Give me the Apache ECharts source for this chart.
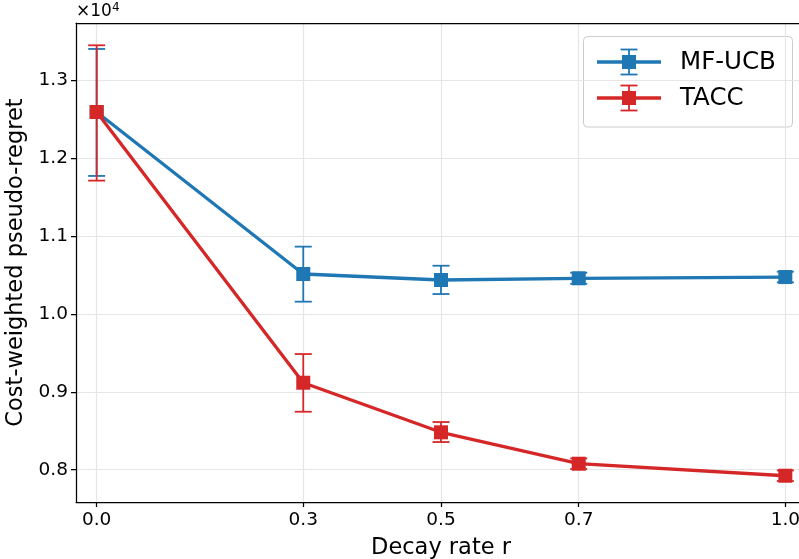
<!DOCTYPE html>
<html>
<head>
<meta charset="utf-8">
<script src="https://cdn.jsdelivr.net/npm/echarts@6/dist/echarts.min.js"></script>
<style>html,body{margin:0;padding:0;background:#fff}#c{width:799px;height:559px}</style>
</head>
<body>
<div id="c"></div>
<script>
const rValues = [0.0, 0.3, 0.5, 0.7, 1.0];
const mfucbMean = [1.2589, 1.0511, 1.0434, 1.0456, 1.0472];
const mfucbLow  = [1.1769, 1.0156, 1.0254, 1.0385, 1.0404];
const mfucbHigh = [1.3398, 1.0862, 1.0617, 1.0527, 1.0540];
const taccMean  = [1.2589, 0.9116, 0.8480, 0.8077, 0.7923];
const taccLow   = [1.1709, 0.8744, 0.8355, 0.8009, 0.7855];
const taccHigh  = [1.3445, 0.9484, 0.8612, 0.8145, 0.7991];
const xTicks = [0.0, 0.3, 0.5, 0.7, 1.0];
const yTicks = [0.8, 0.9, 1.0, 1.1, 1.2, 1.3];
const seriesNames = ['MF-UCB', 'TACC'];

const BLUE = '#1f77b4', RED = '#d62728';
const FONT = 'DejaVu Sans';

function errSeries(name, color, low, high, z) {
  return {
    type: 'custom', name: name + ' err', z: z, silent: true,
    data: rValues.map((x, i) => [x, low[i], high[i]]),
    renderItem: function (params, api) {
      const x = api.value(0);
      const p1 = api.coord([x, api.value(1)]);
      const p2 = api.coord([x, api.value(2)]);
      const hw = 8.5;
      const st = { stroke: color, lineWidth: 1.8 };
      return { type: 'group', children: [
        { type: 'line', shape: { x1: p1[0], y1: p1[1], x2: p2[0], y2: p2[1] }, style: st },
        { type: 'line', shape: { x1: p1[0] - hw, y1: p1[1], x2: p1[0] + hw, y2: p1[1] }, style: st },
        { type: 'line', shape: { x1: p2[0] - hw, y1: p2[1], x2: p2[0] + hw, y2: p2[1] }, style: st }
      ]};
    }
  };
}
function lineSeries(name, color, mean, z) {
  return {
    type: 'line', name: name, z: z,
    data: rValues.map((x, i) => [x, mean[i]]),
    symbol: 'rect', symbolSize: 14,
    lineStyle: { color: color, width: 3.3 },
    itemStyle: { color: color },
    emphasis: { disabled: true },
    animation: false
  };
}

function legendEntry(y, color, text) {
  const st = { stroke: color, lineWidth: 1.8 };
  return [
    { type: 'line', shape: { x1: 597, y1: y, x2: 661, y2: y }, style: { stroke: color, lineWidth: 3.3 } },
    { type: 'line', shape: { x1: 629, y1: y - 12.5, x2: 629, y2: y + 12.5 }, style: st },
    { type: 'line', shape: { x1: 620.5, y1: y - 12.5, x2: 637.5, y2: y - 12.5 }, style: st },
    { type: 'line', shape: { x1: 620.5, y1: y + 12.5, x2: 637.5, y2: y + 12.5 }, style: st },
    { type: 'rect', shape: { x: 622, y: y - 7, width: 14, height: 14 }, style: { fill: color } },
    { type: 'text', x: 680, y: y + 1, style: { text: text, font: '24.5px "DejaVu Sans"', fill: '#000', textVerticalAlign: 'middle' } }
  ];
}

const chart = echarts.init(document.getElementById('c'), null, { renderer: 'canvas' });
chart.setOption({
  animation: false,
  backgroundColor: '#fff',
  grid: { left: 76, top: 23, width: 730, height: 479, containLabel: false, outerBoundsMode: 'none' },
  xAxis: [{
    type: 'value', min: -0.03, max: 1.03,
    name: 'Decay rate r', nameLocation: 'middle', nameGap: 35,
    nameTextStyle: { fontFamily: FONT, fontSize: 22.5, color: '#000' },
    axisLine: { show: true, onZero: false, lineStyle: { color: '#000', width: 1.25 } },
    axisTick: { show: true, customValues: xTicks, length: 5, lineStyle: { color: '#000', width: 1.25 } },
    axisLabel: { customValues: xTicks, formatter: v => v.toFixed(1), fontFamily: FONT, fontSize: 18.5, color: '#000', margin: 9 },
    splitLine: { show: true, lineStyle: { color: '#e6e6e6', width: 1.2 } }
  }, {
    type: 'value', position: 'top', min: -0.03, max: 1.03,
    axisLine: { show: true, onZero: false, lineStyle: { color: '#000', width: 1.25 } },
    axisTick: { show: false }, axisLabel: { show: false }, splitLine: { show: false }
  }],
  yAxis: {
    type: 'value', min: 0.7586, max: 1.3731,
    name: 'Cost-weighted pseudo-regret', nameLocation: 'middle', nameGap: 44, nameRotate: 90,
    nameTextStyle: { fontFamily: FONT, fontSize: 22.5, color: '#000' },
    axisLine: { show: true, onZero: false, lineStyle: { color: '#000', width: 1.25 } },
    axisTick: { show: true, customValues: yTicks, length: 5, lineStyle: { color: '#000', width: 1.25 } },
    axisLabel: { customValues: yTicks, formatter: v => v.toFixed(1), fontFamily: FONT, fontSize: 18.5, color: '#000', margin: 8 },
    splitLine: { show: true, lineStyle: { color: '#e6e6e6', width: 1.2 } }
  },
  series: [
    errSeries(seriesNames[0], BLUE, mfucbLow, mfucbHigh, 2),
    lineSeries(seriesNames[0], BLUE, mfucbMean, 3),
    errSeries(seriesNames[1], RED, taccLow, taccHigh, 4),
    lineSeries(seriesNames[1], RED, taccMean, 5)
  ],
  graphic: [
    { type: 'text', x: 76, y: 2, z: 10, style: { text: '×10{s|4}', rich: { s: { fontSize: 12, verticalAlign: 'top', padding: [0, 0, 7, 0], fontFamily: FONT } }, font: '17px "DejaVu Sans"', fill: '#000' } },
    { type: 'group', z: 20, children: [
      { type: 'rect', shape: { x: 583.5, y: 36.5, width: 209, height: 90.5, r: 4 }, style: { fill: 'rgba(255,255,255,0.85)', stroke: '#cccccc', lineWidth: 1 } }
    ].concat(legendEntry(62, BLUE, seriesNames[0])).concat(legendEntry(98, RED, seriesNames[1])) }
  ]
});
</script>
</body>
</html>
